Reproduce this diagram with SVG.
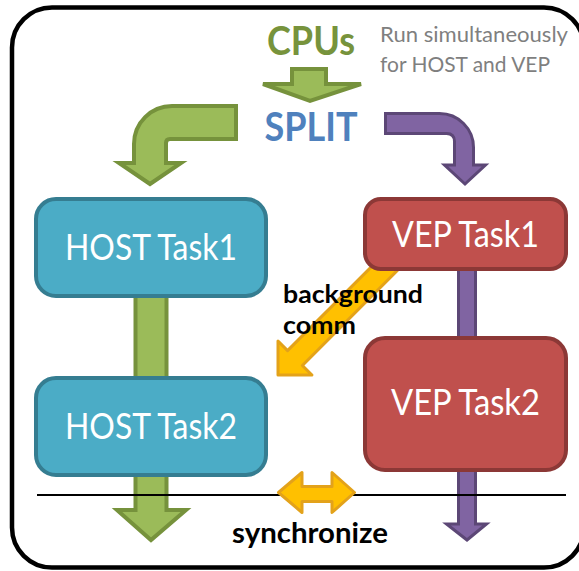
<svg xmlns="http://www.w3.org/2000/svg" width="579" height="571" viewBox="0 0 579 571">
<style>
text{font-family:Lato,"Open Sans","Liberation Sans",sans-serif}
.host{fill:#4BACC6;stroke:#357D91;stroke-width:4}
.vep{fill:#C0504D;stroke:#8C3836;stroke-width:4}
.lbl{fill:#fff;font-size:36px;text-anchor:middle}
.grn{fill:#9BBB59;stroke:#76923C;stroke-width:4;stroke-linejoin:miter}
.pur{fill:#8064A2;stroke:#5C4776;stroke-width:3}
.yel{fill:#FFC000;stroke:#E3A21A;stroke-width:3;stroke-linejoin:round}
.bold{font-weight:bold;font-size:28px;fill:#000}
</style>
<rect x="12" y="7.5" width="572" height="560" rx="40" fill="#fff" stroke="#000" stroke-width="4.5"/>
<g id="connectors">
<polygon class="grn" points="292,69 326,69 326,84 361,84 310,101 263,84 292,84" stroke-width="3"/>
<path class="grn" d="M236,106 L172,106 A38,38 0 0 0 134,144 L134,163 L119,163 L150,184 L181,163 L166,163 L166,143 Q166,139 170,139 L236,139 Z"/>
<path class="pur" d="M385.5,113.5 L439.5,113.5 A34,34 0 0 1 473.5,147.5 L473.5,165 L485.5,165 L465,184 L444.5,165 L454.5,165 L454.5,141.5 Q454.5,133.5 446.5,133.5 L385.5,133.5 Z"/>
<g transform="translate(278,375) rotate(135)"><polygon class="yel" points="0,0 -24,-24 -24,-10.5 -165,-10.5 -165,10.5 -24,10.5 -24,24"/></g>
<rect class="grn" x="135.5" y="290" width="31" height="94"/>
<rect class="pur" x="458.5" y="265" width="17" height="78"/>
<polygon class="grn" points="135.5,470 166.5,470 166.5,510 186,510 151,540 117,510 135.5,510"/>
<polygon class="pur" points="458.5,465 475.5,465 475.5,524 486.5,524 467,540 446.5,524 458.5,524"/>
<line x1="37" y1="495" x2="566" y2="495" stroke="#000" stroke-width="2"/>
<polygon class="yel" points="278.5,492.5 302,472.5 302,486.5 332,486.5 332,472.5 354.5,492.5 332,512.5 332,501.5 302,501.5 302,512.5"/>
</g>
<g id="cpus"><text x="311" y="55" font-size="40" font-weight="bold" fill="#77933C" text-anchor="middle" textLength="88" lengthAdjust="spacingAndGlyphs">CPUs</text></g>
<g id="split"><text x="311" y="141" font-size="40" font-weight="bold" fill="#4F81BD" text-anchor="middle" textLength="93" lengthAdjust="spacingAndGlyphs">SPLIT</text></g>
<g id="note">
<text x="380" y="42" font-size="21" fill="#7F7F7F" textLength="188" lengthAdjust="spacingAndGlyphs">Run simultaneously</text>
<text x="380" y="72" font-size="21" fill="#7F7F7F" textLength="170" lengthAdjust="spacingAndGlyphs">for HOST and VEP</text>
</g>
<g id="host1"><rect class="host" x="36" y="199" width="230" height="97" rx="20"/><text class="lbl" x="151" y="260" textLength="172" lengthAdjust="spacingAndGlyphs">HOST Task1</text></g>
<g id="host2"><rect class="host" x="36" y="378" width="230" height="97" rx="20"/><text class="lbl" x="151" y="439" textLength="172" lengthAdjust="spacingAndGlyphs">HOST Task2</text></g>
<g id="vep1"><rect class="vep" x="365" y="199" width="201" height="70" rx="16"/><text class="lbl" x="465.5" y="247" textLength="147" lengthAdjust="spacingAndGlyphs">VEP Task1</text></g>
<g id="vep2"><rect class="vep" x="365" y="338" width="201" height="132" rx="20"/><text class="lbl" x="465.5" y="415" textLength="149" lengthAdjust="spacingAndGlyphs">VEP Task2</text></g>
<g id="bgcomm">
<text class="bold" x="283" y="303" font-size="25" style="font-size:25px" textLength="140" lengthAdjust="spacingAndGlyphs">background</text>
<text class="bold" x="283" y="334" style="font-size:25px" textLength="73" lengthAdjust="spacingAndGlyphs">comm</text>
</g>
<g id="sync"><text class="bold" x="310" y="543" text-anchor="middle" textLength="156" lengthAdjust="spacingAndGlyphs">synchronize</text></g>
</svg>
